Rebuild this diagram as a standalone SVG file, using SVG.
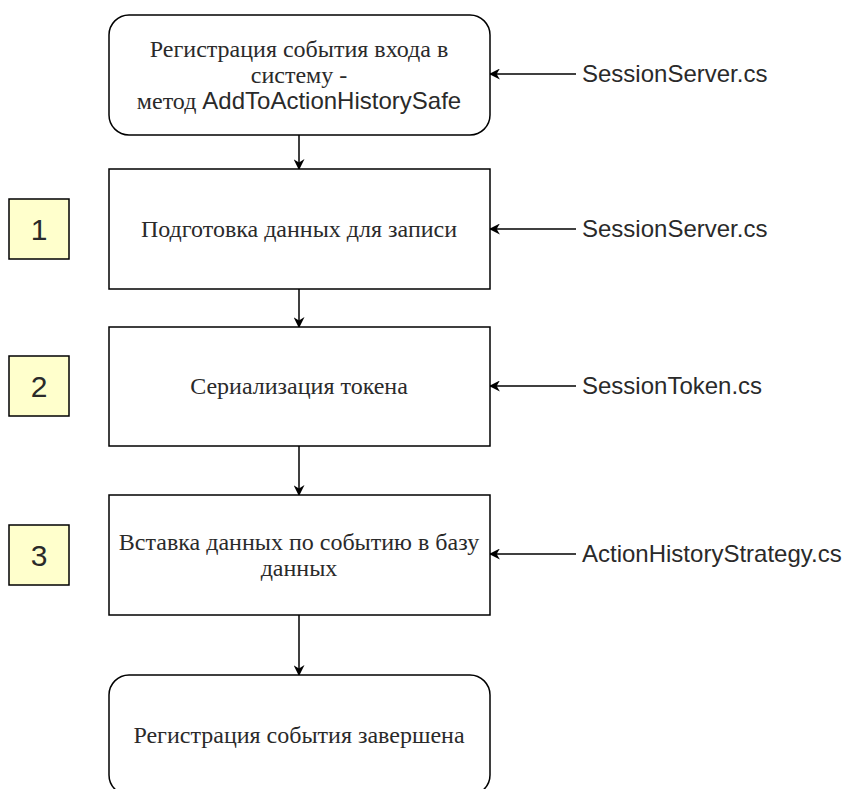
<svg xmlns="http://www.w3.org/2000/svg" width="846" height="789" viewBox="0 0 846 789">
<defs>
<marker id="ah" viewBox="0 0 10 10" refX="9" refY="5" markerWidth="11" markerHeight="11" markerUnits="userSpaceOnUse" orient="auto">
<path d="M0,0 L10,5 L0,10 L3,5 Z" fill="#000"/>
</marker>
</defs>
<style>
.box{fill:#fff;stroke:#000;stroke-width:1.5}
.num{fill:#ffffcc;stroke:#000;stroke-width:1.5}
.t{font-family:"Liberation Serif",serif;font-size:24px;fill:#2a2a2a;text-anchor:middle}
.s{font-family:"Liberation Sans",Arial,sans-serif;font-size:24px;fill:#2a2a2a}
.n{font-family:"Liberation Sans",Arial,sans-serif;font-size:30px;fill:#2a2a2a;text-anchor:middle}
.c{stroke:#000;stroke-width:1.5;fill:none;marker-end:url(#ah)}
</style>
<g id="connectors">
<line class="c" x1="299" y1="135" x2="299" y2="169"/>
<line class="c" x1="299" y1="289" x2="299" y2="327"/>
<line class="c" x1="299" y1="446" x2="299" y2="495"/>
<line class="c" x1="299" y1="615" x2="299" y2="675"/>
<line class="c" x1="576" y1="74" x2="490" y2="74"/>
<line class="c" x1="576" y1="229" x2="490" y2="229"/>
<line class="c" x1="576" y1="386" x2="490" y2="386"/>
<line class="c" x1="576" y1="554" x2="490" y2="554"/>
</g>
<g id="start">
<rect class="box" x="109" y="15" width="381" height="120" rx="20" ry="20"/>
<text class="t" x="299" y="57">Регистрация события входа в</text>
<text class="t" x="299" y="83">систему -</text>
<text class="t" x="299" y="109">метод <tspan style="font-family:'Liberation Sans',Arial,sans-serif">AddToActionHistorySafe</tspan></text>
</g>
<g id="step1">
<rect class="box" x="109" y="169" width="381" height="120"/>
<text class="t" x="299" y="237">Подготовка данных для записи</text>
</g>
<g id="step2">
<rect class="box" x="109" y="327" width="381" height="119"/>
<text class="t" x="299" y="394">Сериализация токена</text>
</g>
<g id="step3">
<rect class="box" x="109" y="495" width="381" height="120"/>
<text class="t" x="299" y="550">Вставка данных по событию в базу</text>
<text class="t" x="299" y="576">данных</text>
</g>
<g id="end">
<rect class="box" x="109" y="675" width="381" height="120" rx="20" ry="20"/>
<text class="t" x="299" y="743">Регистрация события завершена</text>
</g>
<g id="n1">
<rect class="num" x="9" y="199" width="60" height="60"/>
<text class="n" x="39" y="240">1</text>
</g>
<g id="n2">
<rect class="num" x="9" y="356" width="60" height="60"/>
<text class="n" x="39" y="397">2</text>
</g>
<g id="n3">
<rect class="num" x="9" y="525" width="60" height="60"/>
<text class="n" x="39" y="566">3</text>
</g>
<g id="l1"><text class="s" x="582" y="82">SessionServer.cs</text></g>
<g id="l2"><text class="s" x="582" y="237">SessionServer.cs</text></g>
<g id="l3"><text class="s" x="582" y="394">SessionToken.cs</text></g>
<g id="l4"><text class="s" x="582" y="562">ActionHistoryStrategy.cs</text></g>
</svg>
